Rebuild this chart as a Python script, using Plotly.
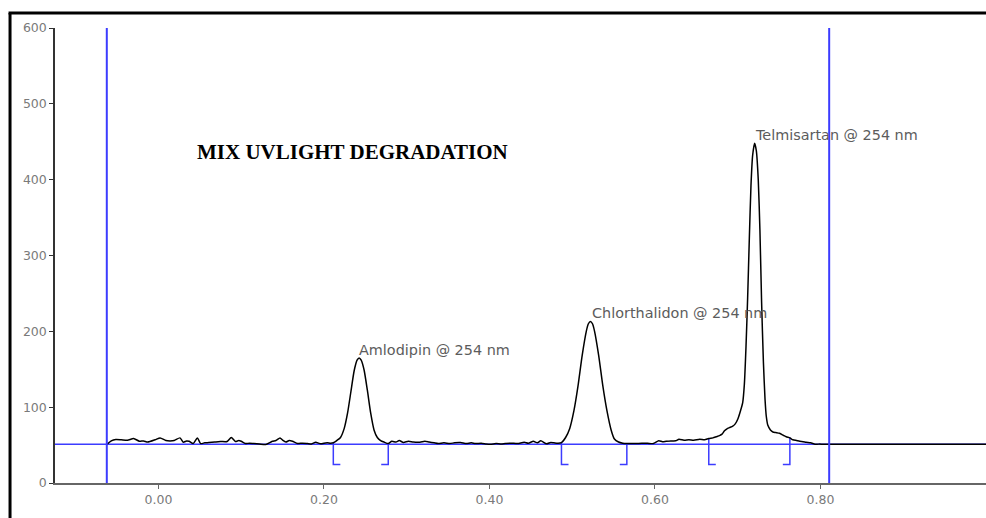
import plotly.graph_objects as go

# ---- chromatogram trace (time in min, signal) ----
times = [-0.0624, -0.057, -0.0515, -0.045, -0.0374, -0.030, -0.023, -0.018, -0.013, -0.004,
         0.002, 0.009, 0.014, 0.019, 0.026, 0.030, 0.034, 0.037, 0.042, 0.047,
         0.051, 0.056, 0.061, 0.068, 0.075, 0.083, 0.088, 0.093, 0.097, 0.100,
         0.105, 0.110, 0.1155, 0.122, 0.1296, 0.1376, 0.142, 0.1469, 0.150, 0.154,
         0.158, 0.162, 0.168, 0.174, 0.180, 0.185, 0.190, 0.196, 0.200, 0.204,
         0.208, 0.2113,
         0.2155, 0.220, 0.2245, 0.2285, 0.2325, 0.2365, 0.2400, 0.2425, 0.2450, 0.2485,
         0.2525, 0.2565, 0.2605, 0.2645, 0.2685, 0.2725, 0.2777,
         0.282, 0.287, 0.291, 0.296, 0.302, 0.308, 0.316, 0.322, 0.327, 0.333,
         0.338, 0.345, 0.352, 0.358, 0.365, 0.372, 0.378, 0.383, 0.390, 0.396,
         0.401, 0.408, 0.414, 0.419, 0.426, 0.434, 0.442, 0.447, 0.453, 0.458,
         0.462, 0.469, 0.474, 0.478, 0.483, 0.487,
         0.492, 0.497, 0.502, 0.507, 0.512, 0.517, 0.5195, 0.522, 0.5245, 0.527,
         0.532, 0.537, 0.542, 0.547, 0.551, 0.556, 0.561, 0.566,
         0.571, 0.577, 0.584, 0.591, 0.598, 0.6045, 0.609, 0.6135, 0.619, 0.625,
         0.629, 0.635, 0.641, 0.647, 0.654, 0.660, 0.665, 0.670, 0.674, 0.678,
         0.681, 0.684, 0.687, 0.690, 0.694, 0.697, 0.700, 0.703, 0.706, 0.708,
         0.710, 0.712, 0.714, 0.716, 0.718, 0.7204, 0.7225, 0.7248, 0.7268, 0.7288,
         0.731, 0.733, 0.7345, 0.7364, 0.7395, 0.7425, 0.746, 0.7505, 0.755, 0.7586,
         0.763, 0.7666, 0.771, 0.775, 0.779, 0.7827, 0.788, 0.7948, 0.799, 0.803,
         0.811, 1.000]
signal = [50.7, 55.5, 57.3, 57.0, 56.4, 58.7, 55.0, 55.5, 54.0, 57.0,
          59.5, 56.0, 55.5, 56.0, 59.5, 53.8, 55.5, 55.0, 52.0, 59.5,
          52.0, 53.0, 53.3, 54.0, 54.7, 54.7, 60.0, 54.7, 56.0, 55.0,
          52.0, 52.5, 52.0, 51.5, 50.7, 55.0, 56.0, 59.5, 56.5, 54.0,
          56.0, 55.0, 52.0, 52.5, 52.0, 51.5, 53.8, 51.6, 52.5, 53.0,
          52.5, 53.0,
          56, 60, 72, 92, 120, 148, 162, 165, 162, 149,
          122, 92, 70, 60, 56, 54, 52,
          55, 54, 56, 53.5, 55, 54, 53.8, 55, 54, 53,
          52, 53, 52, 53, 53.3, 52, 53, 52, 52.5, 51.5,
          51, 52, 51.5, 52, 52.5, 52, 53.8, 52.5, 55, 53,
          55.6, 51.6, 53.5, 53, 52.5, 53.3,
          60, 72, 95, 128, 168, 200, 210, 213, 210, 200,
          168, 128, 95, 70, 58, 54, 52.5, 52,
          52, 52, 52.5, 52.4, 52, 55.6, 54.5, 55, 55.5, 55.6,
          57.8, 56.5, 57, 56.5, 57.8, 57, 58.7, 59.5, 61, 62.5,
          64.4, 69, 71.5, 73, 75, 78, 84, 94, 106, 130,
          180, 245, 322, 392, 432, 448, 438, 400, 334, 240,
          160, 110, 88, 76, 70, 67.3, 66.5, 65.5, 63, 61,
          59.5, 57, 56, 55, 54.5, 53.7, 53, 51, 51.5, 51,
          51, 51]

# ---- peak labels ----
peak_names = ["Amlodipin @ 254 nm", "Chlorthalidon @ 254 nm", "Telmisartan @ 254 nm"]
peak_times = [0.2437, 0.5245, 0.7217]
peak_heights = [165, 213, 448]

# ---- integration markers (peak start/end) ----
mark_times = [0.2113, 0.2777, 0.487, 0.566, 0.665, 0.763]
mark_tops = [53.0, 52.0, 53.3, 52.0, 58.7, 60.0]
mark_sides = [1, -1, 1, -1, 1, -1]
mark_bottom = 24.5

# ---- window markers and baseline ----
window_times = [-0.0624, 0.8105]
baseline_level = 51

x_ticks = [0.0, 0.2, 0.4, 0.6, 0.8]
x_tick_text = ["0.00", "0.20", "0.40", "0.60", "0.80"]
y_ticks = [0, 100, 200, 300, 400, 500, 600]

title_text = "MIX UVLIGHT DEGRADATION"

BLUE = "#3c3cff"

fig = go.Figure()

# bracket markers
bx, by = [], []
for t, top, s in zip(mark_times, mark_tops, mark_sides):
    bx += [t, t, t + s * 0.0085, None]
    by += [top, mark_bottom, mark_bottom, None]
fig.add_trace(go.Scatter(x=bx, y=by, mode="lines",
                         line=dict(color=BLUE, width=1.5), hoverinfo="skip"))

fig.add_trace(go.Scatter(x=times, y=signal, mode="lines",
                         line=dict(color="black", width=1.5, shape="spline", smoothing=0.6)))

shapes = []
shapes.append(dict(type="line", xref="paper", yref="y", x0=0, x1=1,
                   y0=baseline_level, y1=baseline_level,
                   line=dict(color=BLUE, width=1.5), layer="below"))
for wt in window_times:
    shapes.append(dict(type="line", xref="x", yref="y", x0=wt, x1=wt, y0=0, y1=600,
                       line=dict(color=BLUE, width=2)))
# outer frame (left and top)
shapes.append(dict(type="line", xref="paper", yref="paper", x0=-0.0483, x1=-0.0483,
                   y0=1.033, y1=-0.08, line=dict(color="black", width=3)))
shapes.append(dict(type="line", xref="paper", yref="paper", x0=-0.0499, x1=1.0,
                   y0=1.033, y1=1.033, line=dict(color="black", width=3)))

annotations = []
for name, t, h in zip(peak_names, peak_times, peak_heights):
    annotations.append(dict(x=t, y=h, xref="x", yref="y", text=name, showarrow=False,
                            xanchor="left", yanchor="middle", yshift=8, xshift=-3,
                            font=dict(family="DejaVu Sans", size=14.4, color="#5c5c5c")))
annotations.append(dict(x=0.235, y=437, xref="x", yref="y", text="<b>" + title_text + "</b>",
                        showarrow=False, xanchor="center", yanchor="middle",
                        font=dict(family="Liberation Serif", size=21, color="black")))

fig.update_layout(
    width=986, height=518,
    margin=dict(l=55, r=0, t=28, b=35),
    plot_bgcolor="white", paper_bgcolor="white",
    showlegend=False,
    shapes=shapes, annotations=annotations,
    xaxis=dict(range=[-0.125, 1.0], tickvals=x_ticks, ticktext=x_tick_text,
               showline=True, linecolor="#666666", linewidth=2,
               ticks="outside", ticklen=4, tickcolor="#666666",
               showgrid=False, zeroline=False,
               tickfont=dict(family="DejaVu Sans", size=12.5, color="#7a7a7a")),
    yaxis=dict(range=[0, 600], tickvals=y_ticks,
               showline=True, linecolor="#333333", linewidth=1.5,
               ticks="outside", ticklen=4, tickcolor="#333333",
               showgrid=False, zeroline=False,
               tickfont=dict(family="DejaVu Sans", size=12.5, color="#7a7a7a")),
)

fig.write_html("out.html")
